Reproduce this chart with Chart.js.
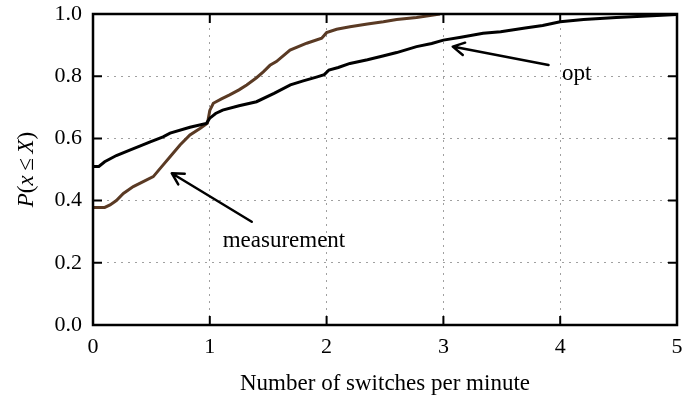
<!DOCTYPE html>
<html><head><meta charset="utf-8">
<script src="https://cdn.jsdelivr.net/npm/chart.js@4.4.0/dist/chart.umd.min.js"></script>
<style>html,body{margin:0;padding:0;background:#fff}</style>
</head><body>
<canvas id="c" width="700" height="400"></canvas>
<script>
// ---- data ----
const optX = [0, 0.05, 0.1, 0.2, 0.32, 0.4, 0.49, 0.6, 0.66, 0.83, 0.97, 1.0, 1.05, 1.11, 1.25, 1.4, 1.55, 1.69, 1.8, 1.92, 1.98, 2.02, 2.1, 2.2, 2.35, 2.49, 2.6, 2.77, 2.9, 3.0, 3.15, 3.34, 3.49, 3.7, 3.85, 4.0, 4.2, 4.48, 4.7, 5.0];
const optY = [0.51, 0.51, 0.525, 0.545, 0.563, 0.575, 0.589, 0.605, 0.617, 0.636, 0.648, 0.665, 0.68, 0.691, 0.705, 0.718, 0.745, 0.772, 0.785, 0.798, 0.805, 0.82, 0.828, 0.841, 0.853, 0.866, 0.876, 0.895, 0.905, 0.916, 0.925, 0.938, 0.943, 0.955, 0.963, 0.975, 0.982, 0.989, 0.993, 0.998];
const measX = [0, 0.1, 0.146, 0.2, 0.26, 0.345, 0.43, 0.516, 0.59, 0.66, 0.745, 0.83, 0.916, 0.98, 1.0, 1.03, 1.1, 1.17, 1.25, 1.316, 1.4, 1.458, 1.515, 1.57, 1.687, 1.83, 1.958, 2.0, 2.086, 2.2, 2.35, 2.486, 2.6, 2.77, 2.9, 2.97];
const measY = [0.378, 0.378, 0.386, 0.40, 0.423, 0.445, 0.461, 0.477, 0.51, 0.541, 0.579, 0.611, 0.632, 0.649, 0.69, 0.713, 0.727, 0.74, 0.756, 0.772, 0.795, 0.814, 0.835, 0.847, 0.884, 0.906, 0.922, 0.94, 0.951, 0.959, 0.968, 0.975, 0.982, 0.989, 0.996, 1.0];
const xTicks = [0, 1, 2, 3, 4, 5];
const yTicks = [0.0, 0.2, 0.4, 0.6, 0.8, 1.0];
const seriesNames = ['opt', 'measurement'];
const labelTextX = [4.015, 1.11];
const labelTextY = [0.788, 0.252];
const arrowHeadX = [3.08, 0.674];
const arrowHeadY = [0.895, 0.488];
const arrowTailX = [3.90, 1.359];
const arrowTailY = [0.836, 0.332];
const xTitle = 'Number of switches per minute';

const FONT = "'Liberation Serif', 'Times New Roman', serif";
const FS = 22;
const FS2 = 23;

const toPts = (xs, ys) => xs.map((x, i) => ({x, y: ys[i]}));

const decor = {
  id: 'decor',
  afterDatasetsDraw(chart) {
    const {ctx, chartArea: a, scales: {x, y}} = chart;
    ctx.save();
    ctx.strokeStyle = '#000';
    ctx.lineWidth = 2;
    const TL = 9;
    ctx.beginPath();
    xTicks.forEach(v => {
      const px = x.getPixelForValue(v);
      ctx.moveTo(px, a.bottom); ctx.lineTo(px, a.bottom - TL);
      ctx.moveTo(px, a.top); ctx.lineTo(px, a.top + TL);
    });
    yTicks.forEach(v => {
      const py = y.getPixelForValue(v);
      ctx.moveTo(a.left, py); ctx.lineTo(a.left + TL, py);
      ctx.moveTo(a.right, py); ctx.lineTo(a.right - TL, py);
    });
    ctx.stroke();
    ctx.lineWidth = 2.5;
    ctx.strokeRect(a.left, a.top, a.right - a.left, a.bottom - a.top);
    ctx.fillStyle = '#000';
    ctx.font = FS2 + 'px ' + FONT;
    ctx.textBaseline = 'alphabetic';
    ctx.textAlign = 'left';
    seriesNames.forEach((t, i) => {
      ctx.fillText(t, x.getPixelForValue(labelTextX[i]), y.getPixelForValue(labelTextY[i]));
      const hx = x.getPixelForValue(arrowHeadX[i]), hy = y.getPixelForValue(arrowHeadY[i]);
      const tx = x.getPixelForValue(arrowTailX[i]), ty = y.getPixelForValue(arrowTailY[i]);
      const ang = Math.atan2(ty - hy, tx - hx);
      const L = 13, w = 0.5;
      ctx.lineWidth = 2.5;
      ctx.lineCap = 'round';
      ctx.lineJoin = 'round';
      ctx.beginPath();
      ctx.moveTo(tx, ty); ctx.lineTo(hx + Math.cos(ang), hy + Math.sin(ang));
      ctx.moveTo(hx + Math.cos(ang + w) * L, hy + Math.sin(ang + w) * L);
      ctx.lineTo(hx, hy);
      ctx.lineTo(hx + Math.cos(ang - w) * L, hy + Math.sin(ang - w) * L);
      ctx.stroke();
    });
    const parts = [['P', true], ['(', false], ['x', true], ['\u2009\u2264\u2009', false], ['X', true], [')', false]];
    const fnt = it => (it ? 'italic ' : '') + FS2 + 'px ' + FONT;
    let total = 0;
    parts.forEach(([s, it]) => { ctx.font = fnt(it); total += ctx.measureText(s).width; });
    ctx.translate(27, (a.top + a.bottom) / 2);
    ctx.rotate(-Math.PI / 2);
    ctx.textBaseline = 'middle';
    let cx = -total / 2;
    parts.forEach(([s, it]) => { ctx.font = fnt(it); ctx.fillText(s, cx, 0); cx += ctx.measureText(s).width; });
    ctx.restore();
  }
};

new Chart(document.getElementById('c'), {
  type: 'line',
  data: {
    datasets: [
      {label: seriesNames[0], data: toPts(optX, optY), borderColor: '#000000', borderWidth: 3, pointRadius: 0, tension: 0, fill: false},
      {label: seriesNames[1], data: toPts(measX, measY), borderColor: '#5a3a24', borderWidth: 3, pointRadius: 0, tension: 0, fill: false}
    ]
  },
  options: {
    responsive: false,
    animation: false,
    layout: {padding: {top: 14, right: 23, left: 0, bottom: 0}},
    plugins: {legend: {display: false}, tooltip: {enabled: false}},
    scales: {
      x: {
        type: 'linear', min: 0, max: 5,
        afterFit(s) { s.height = 75; s.paddingLeft = 0; s.paddingRight = 0; },
        afterBuildTicks(s) { s.ticks = xTicks.map(v => ({value: v})); },
        grid: {color: '#a0a0a0', lineWidth: 1, drawTicks: false},
        border: {display: false, dash: [2, 5]},
        ticks: {color: '#000', padding: 9, font: {family: FONT, size: FS}, callback: v => String(v)},
        title: {display: true, text: xTitle, color: '#000', font: {family: FONT, size: FS2}, padding: {top: 4, bottom: 2}}
      },
      y: {
        type: 'linear', min: 0, max: 1,
        afterFit(s) { s.width = 93; s.paddingTop = 0; s.paddingBottom = 0; },
        afterBuildTicks(s) { s.ticks = yTicks.map(v => ({value: v})); },
        grid: {color: '#a0a0a0', lineWidth: 1, drawTicks: false},
        border: {display: false, dash: [2, 5]},
        ticks: {color: '#000', padding: 11, font: {family: FONT, size: FS}, callback: v => Number(v).toFixed(1)}
      }
    }
  },
  plugins: [decor]
});
</script>
</body></html>
